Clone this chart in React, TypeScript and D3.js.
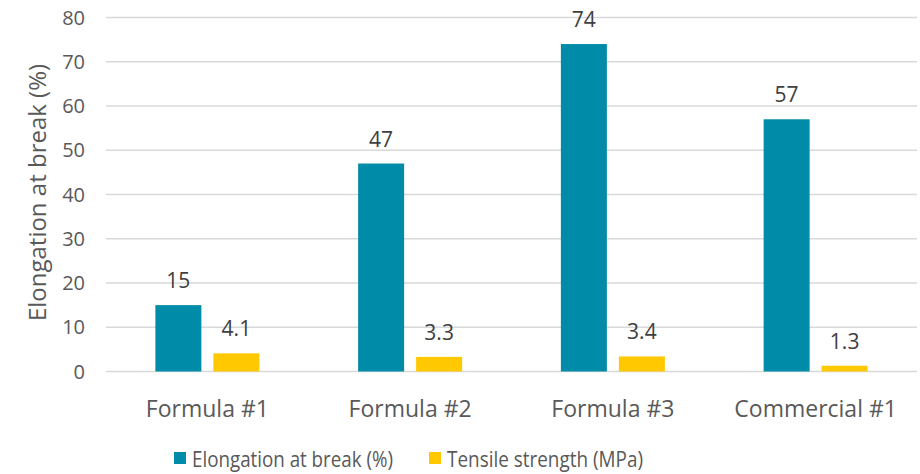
import React from "react";
import * as d3 from "d3";

const categories = ["Formula #1", "Formula #2", "Formula #3", "Commercial #1"];
const elongation = [15, 47, 74, 57];
const tensile = [4.1, 3.3, 3.4, 1.3];
const seriesNames = ["Elongation at break (%)", "Tensile strength (MPa)"];
const yTicks = [0, 10, 20, 30, 40, 50, 60, 70, 80];

const colors = ["#008BA8", "#FFC800"];
const textColor = "#595959";
const font = "'Open Sans', sans-serif";

export default function App() {
  const width = 920;
  const height = 474;
  const plotLeft = 106;
  const plotRight = 917;
  const plotTop = 17.5;
  const plotBottom = 371.5;

  const x = d3.scaleBand<string>().domain(categories).range([plotLeft, plotRight]);
  const y = d3.scaleLinear().domain([0, 80]).range([plotBottom, plotTop]);
  const barW = 46;
  const gap = 12;

  const series = [elongation, tensile];
  // legend entries: swatch x and condensed text width
  const legendX = [174, 429];
  const legendTextW = [201, 196];

  return (
    <div style={{ position: "absolute", left: 0, top: 0 }}>
      <svg width={width} height={height} style={{ display: "block", background: "#fff" }}>
        {yTicks.map((t) => (
          <g key={t}>
            <line x1={plotLeft} x2={plotRight} y1={y(t)} y2={y(t)} stroke="#D9D9D9" strokeWidth={1.3} />
            <text x={85} y={y(t)} dy="0.36em" textAnchor="end" fontFamily={font} fontSize={20} fill={textColor}>
              {t}
            </text>
          </g>
        ))}
        {categories.map((c, i) => {
          const cx = (x(c) as number) + x.bandwidth() / 2;
          return (
            <g key={c}>
              {series.map((vals, s) => {
                const bx = s === 0 ? cx - gap / 2 - barW : cx + gap / 2;
                const v = vals[i];
                return (
                  <g key={s}>
                    <rect x={bx} y={y(v)} width={barW} height={plotBottom - y(v)} fill={colors[s]} />
                    <text x={bx + barW / 2} y={y(v) - 17} textAnchor="middle" fontFamily={font} fontSize={21} fill="#404040">
                      {v}
                    </text>
                  </g>
                );
              })}
              <text x={cx} y={417} textAnchor="middle" fontFamily={font} fontSize={23} fill={textColor}>
                {c}
              </text>
            </g>
          );
        })}
        <text
          transform={`translate(46, ${(plotTop + plotBottom) / 2 - 2}) rotate(-90)`}
          textAnchor="middle"
          fontFamily={font}
          fontSize={24}
          fill={textColor}
        >
          Elongation at break (%)
        </text>
        {seriesNames.map((n, s) => {
          const lx = legendX[s];
          return (
            <g key={n}>
              <rect x={lx} y={452} width={12} height={12} fill={colors[s]} />
              <text
                x={lx + 18}
                y={467}
                fontFamily={font}
                fontSize={21}
                fill={textColor}
                textLength={legendTextW[s]}
                lengthAdjust="spacingAndGlyphs"
              >
                {n}
              </text>
            </g>
          );
        })}
      </svg>
    </div>
  );
}
